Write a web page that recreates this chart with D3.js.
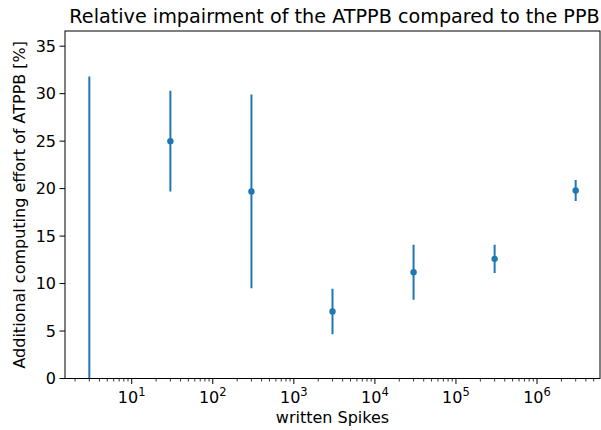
<!DOCTYPE html>
<html>
<head>
<meta charset="utf-8">
<script src="https://cdn.jsdelivr.net/npm/d3@7"></script>
<style>
  body { margin: 0; background: #fff; }
  text { font-family: "DejaVu Sans", sans-serif; fill: #000; }
</style>
</head>
<body>
<svg id="chart" width="601" height="430"></svg>
<script>
// measured values (x = written spikes, y = mean, err = std)
var spikes = [3, 30, 300, 3000, 30000, 300000, 3000000];
var means  = [-16.2, 25.0, 19.7, 7.05, 11.2, 12.6, 19.8];
var errs   = [48.0, 5.3, 10.2, 2.4, 2.9, 1.5, 1.1];
var yTicks = [0, 5, 10, 15, 20, 25, 30, 35];
var xTicks = [10, 100, 1000, 10000, 100000, 1000000];

var svg = d3.select("#chart");
var mL = 65, mR = 600, mT = 31, mB = 378.5;
var blue = "#1f77b4";

var x = d3.scaleLog()
    .domain([Math.pow(10, 0.177), Math.pow(10, 6.777)])
    .range([mL, mR]);
var y = d3.scaleLinear()
    .domain([0, 36.6])
    .range([mB, mT]);

svg.append("clipPath").attr("id", "clip")
  .append("rect")
    .attr("x", mL).attr("y", mT)
    .attr("width", mR - mL).attr("height", mB - mT);

var plot = svg.append("g").attr("clip-path", "url(#clip)");

var data = spikes.map(function(s, i) { return {x: s, y: means[i], e: errs[i]}; });

plot.selectAll("line.err")
    .data(data)
  .enter().append("line")
    .attr("class", "err")
    .attr("x1", function(d) { return x(d.x); })
    .attr("x2", function(d) { return x(d.x); })
    .attr("y1", function(d) { return y(d.y - d.e); })
    .attr("y2", function(d) { return y(d.y + d.e); })
    .attr("stroke", blue)
    .attr("stroke-width", 2);

plot.selectAll("circle")
    .data(data)
  .enter().append("circle")
    .attr("cx", function(d) { return x(d.x); })
    .attr("cy", function(d) { return y(d.y); })
    .attr("r", 3.2)
    .attr("fill", blue);

// frame
svg.append("rect")
    .attr("x", mL).attr("y", mT)
    .attr("width", mR - mL).attr("height", mB - mT)
    .attr("fill", "none")
    .attr("stroke", "#000")
    .attr("stroke-width", 1);

// y axis
var yAxis = svg.append("g");
yTicks.forEach(function(t) {
  yAxis.append("line")
      .attr("x1", mL - 5.5).attr("x2", mL)
      .attr("y1", y(t)).attr("y2", y(t))
      .attr("stroke", "#000");
  yAxis.append("text")
      .attr("x", mL - 9).attr("y", y(t))
      .attr("dy", "0.36em")
      .attr("text-anchor", "end")
      .attr("font-size", 16)
      .text(t);
});

// x axis, major and minor ticks
var xAxis = svg.append("g");
var dom = x.domain();
for (var p = 0; p <= 7; p++) {
  for (var m = 1; m <= 9; m++) {
    var v = m * Math.pow(10, p);
    if (v < dom[0] || v > dom[1]) continue;
    var major = (m == 1);
    xAxis.append("line")
        .attr("x1", x(v)).attr("x2", x(v))
        .attr("y1", mB).attr("y2", mB + (major ? 5.5 : 3))
        .attr("stroke", "#000")
        .attr("stroke-width", major ? 1 : 0.8);
  }
}
xTicks.forEach(function(t) {
  var lbl = xAxis.append("text")
      .attr("x", x(t)).attr("y", mB + 24)
      .attr("text-anchor", "middle")
      .attr("font-size", 16);
  lbl.append("tspan").text("10");
  lbl.append("tspan")
      .attr("dy", -7)
      .attr("font-size", 11.5)
      .text(Math.round(Math.log10(t)));
});

svg.append("text")
    .attr("x", (mL + mR) / 2).attr("y", 423)
    .attr("text-anchor", "middle")
    .attr("font-size", 16)
    .text("written Spikes");

svg.append("text")
    .attr("transform", "translate(25," + ((mT + mB) / 2) + ") rotate(-90)")
    .attr("text-anchor", "middle")
    .attr("font-size", 16)
    .text("Additional computing effort of ATPPB [%]");

svg.append("text")
    .attr("x", (mL + mR) / 2 + 2).attr("y", 23)
    .attr("text-anchor", "middle")
    .attr("font-size", 19.2)
    .text("Relative impairment of the ATPPB compared to the PPB");
</script>
</body>
</html>
